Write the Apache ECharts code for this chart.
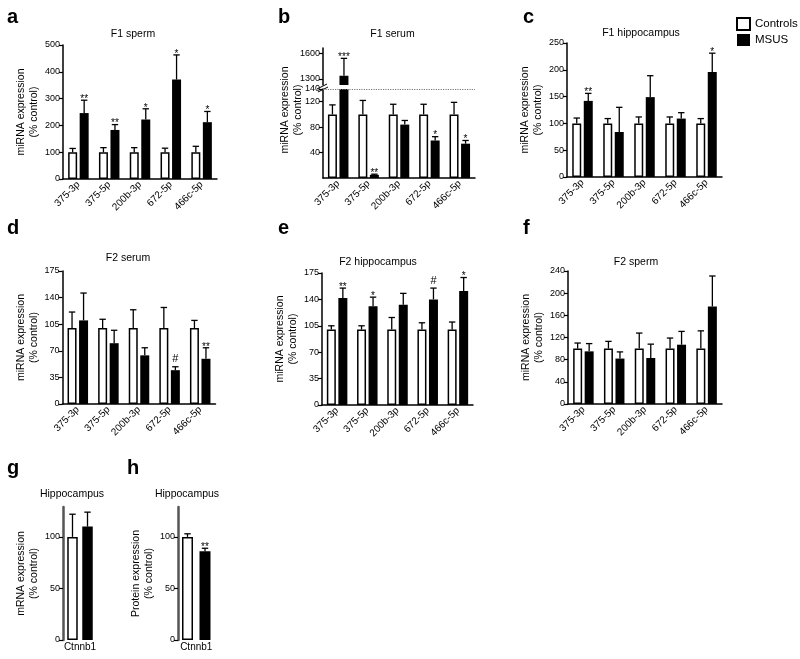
<!DOCTYPE html>
<html><head><meta charset="utf-8">
<script src="https://cdn.jsdelivr.net/npm/echarts@6/dist/echarts.min.js"></script>
<style>html,body{margin:0;padding:0;background:#fff}#c{width:800px;height:659px}</style>
</head><body><div id="c"></div>
<script>
// ---------- DATA ----------
const categories = ['375-3p','375-5p','200b-3p','672-5p','466c-5p'];
const geneCategory = ['Ctnnb1'];

// a: F1 sperm
const f1SpermCtrl = [100,100,100,100,100];
const f1SpermCtrlErr = [14,17,17,15,22];
const f1SpermMsus = [246,183,222,371,212];
const f1SpermMsusErr = [48,20,40,92,40];
const f1SpermSig = ['**','**','*','*','*'];
const f1SpermTicks = [0,100,200,300,400,500];

// b: F1 serum (broken axis)
const f1SerumCtrl = [100,100,100,100,100];
const f1SerumCtrlErr = [15,22,16,16,19];
const f1SerumMsus = [1338,5,84,59,54];
const f1SerumMsusErr = [203,1,6.5,6,5];
const f1SerumSig = ['***','**','','*','*'];
const f1SerumTicksLow = [40,80,120,140];
const f1SerumTicksHigh = [1300,1600];

// c: F1 hippocampus
const f1HippoCtrl = [100,100,100,100,100];
const f1HippoCtrlErr = [10,9,12,12,9];
const f1HippoMsus = [142,84,149,109,196];
const f1HippoMsusErr = [14,46,40,11,35];
const f1HippoSig = ['**','','','','*'];
const f1HippoTicks = [0,50,100,150,200,250];

// d: F2 serum
const f2SerumCtrl = [100,100,100,100,100];
const f2SerumCtrlErr = [21,11.5,24,27,10];
const f2SerumMsus = [110,80,64,44.5,59.5];
const f2SerumMsusErr = [36,17,10,4.5,14.5];
const f2SerumSig = ['','','','#','**'];
const f2SerumTicks = [0,35,70,105,140,175];

// e: F2 hippocampus
const f2HippoCtrl = [100,100,100,100,100];
const f2HippoCtrlErr = [5,5,16,9,10];
const f2HippoMsus = [142,131,133,140,151];
const f2HippoMsusErr = [13,12,15,15,18];
const f2HippoSig = ['**','*','','#','*'];
const f2HippoTicks = [0,35,70,105,140,175];

// f: F2 sperm
const f2SpermCtrl = [100,100,100,100,100];
const f2SpermCtrlErr = [10,13,28,19,32];
const f2SpermMsus = [95,82,83,107,176];
const f2SpermMsusErr = [14,12,25,24,55];
const f2SpermSig = ['','','','',''];
const f2SpermTicks = [0,40,80,120,160,200,240];

// g: Ctnnb1 mRNA
const mrnaCtrl = [100];
const mrnaCtrlErr = [22];
const mrnaMsus = [110];
const mrnaMsusErr = [14];
const mrnaSig = [''];
// h: Ctnnb1 protein
const protCtrl = [100];
const protCtrlErr = [3];
const protMsus = [86];
const protMsusErr = [3];
const protSig = ['**'];
const geneTicks = [0,50,100];

// ---------- BUILD ----------
const FONT = "'Liberation Sans', Arial, Helvetica, sans-serif";
const grids = [], xAxes = [], yAxes = [], series = [], graphics = [];

function addPanel(o) {
  const gi = grids.length;
  grids.push({left:o.left, top:o.top, width:o.width, height:o.height});
  xAxes.push({
    type:'category', gridIndex:gi, data:o.cats,
    axisLine:{show:o.xLine !== false, onZero:false, lineStyle:{color:'#000', width:1.5}},
    axisTick:{show:false},
    axisLabel:{show:o.xLabels !== false, interval:0, rotate:o.rot || 0, margin:o.labelMargin || 4,
      fontSize:10, color:'#000', fontFamily:FONT},
    splitLine:{show:false}
  });
  yAxes.push({
    type:'value', gridIndex:gi, min:o.min, max:o.max,
    axisLine:{show:true, lineStyle:{color:o.axisColor || '#000', width:o.axisWidth || 1.5}},
    axisTick:{show:true, length:4, customValues:o.ticks, lineStyle:{color:'#000', width:1.2}},
    axisLabel:{customValues:o.ticks, fontSize:9, color:'#000', margin:3, fontFamily:FONT,
      formatter:v => String(v)},
    splitLine:{show:false},
    name:o.name || '', nameLocation:'middle', nameGap:o.nameGap || 19, nameRotate:90,
    nameTextStyle:{fontSize:10.5, lineHeight:13, color:'#000', fontFamily:FONT}
  });
  const bw = o.bw, gap = o.gap;
  series.push({type:'bar', name:'Controls', xAxisIndex:gi, yAxisIndex:gi, data:o.ctrl,
    barWidth:bw, barGap:gap + '%', clip:true, silent:true,
    itemStyle:{color:'#fff', borderColor:'#000', borderWidth:1.5},
    markLine:o.markLine});
  series.push({type:'bar', name:'MSUS', xAxisIndex:gi, yAxisIndex:gi, data:o.msus,
    barWidth:bw, barGap:gap + '%', clip:true, silent:true,
    itemStyle:{color:'#000'}});
  const off = bw * (1 + gap / 100) / 2;
  const errData = [];
  o.ctrl.forEach((v, i) => {
    errData.push([i, v, v + o.ctrlErr[i], -1]);
    errData.push([i, o.msus[i], o.msus[i] + o.msusErr[i], 1]);
  });
  const sig = o.sig;
  series.push({type:'custom', xAxisIndex:gi, yAxisIndex:gi, clip:!!o.clip, silent:true, z:5,
    encode:{x:0, y:[1,2]}, data:errData,
    renderItem(params, api) {
      const i = api.value(0), mean = api.value(1), top = api.value(2), side = api.value(3);
      const b = api.coord([i, mean]);
      const t = api.coord([i, top]);
      const x = b[0] + side * off;
      const cap = 3.2;
      const st = {stroke:'#000', lineWidth:1.3};
      const ch = [
        {type:'line', shape:{x1:x, y1:b[1], x2:x, y2:t[1]}, style:st},
        {type:'line', shape:{x1:x - cap, y1:t[1], x2:x + cap, y2:t[1]}, style:st}
      ];
      const s = side > 0 ? sig[i] : '';
      if (s) {
        const isHash = s === '#';
        ch.push({type:'text', x:x, y:t[1] + (isHash ? -2 : 4),
          style:{text:s, textAlign:'center', textVerticalAlign:'bottom',
            fontSize:isHash ? 11 : 10, fontFamily:FONT, fill:'#000'}});
      }
      return {type:'group', children:ch};
    }
  });
  return gi;
}

const mainBw = 9, mainGap = 28;
const yName = 'miRNA expression\n(% control)';

// a
addPanel({left:63, top:45, width:154, height:134, min:0, max:500, ticks:f1SpermTicks,
  cats:categories, rot:45, ctrl:f1SpermCtrl, ctrlErr:f1SpermCtrlErr, msus:f1SpermMsus,
  msusErr:f1SpermMsusErr, sig:f1SpermSig, bw:mainBw, gap:mainGap, name:yName});
// b upper
addPanel({left:323, top:48, width:152, height:37, min:1230, max:1662, ticks:f1SerumTicksHigh,
  cats:categories, xLine:false, xLabels:false, ctrl:f1SerumCtrl, ctrlErr:f1SerumCtrlErr,
  msus:f1SerumMsus, msusErr:f1SerumMsusErr, sig:f1SerumSig, bw:mainBw, gap:mainGap, clip:true});
// b lower
addPanel({left:323, top:89, width:152, height:89, min:0, max:140, ticks:f1SerumTicksLow,
  cats:categories, rot:45, ctrl:f1SerumCtrl, ctrlErr:f1SerumCtrlErr,
  msus:f1SerumMsus, msusErr:f1SerumMsusErr, sig:f1SerumSig, bw:mainBw, gap:mainGap, clip:true,
  markLine:{symbol:'none', silent:true, label:{show:false},
    lineStyle:{type:'dotted', color:'#777', width:1.2}, data:[{yAxis:140}]}});
// c
addPanel({left:567, top:43, width:155, height:134, min:0, max:250, ticks:f1HippoTicks,
  cats:categories, rot:45, ctrl:f1HippoCtrl, ctrlErr:f1HippoCtrlErr, msus:f1HippoMsus,
  msusErr:f1HippoMsusErr, sig:f1HippoSig, bw:mainBw, gap:mainGap, name:yName});
// d
addPanel({left:62.5, top:271, width:153, height:133, min:0, max:175, ticks:f2SerumTicks,
  cats:categories, rot:45, ctrl:f2SerumCtrl, ctrlErr:f2SerumCtrlErr, msus:f2SerumMsus,
  msusErr:f2SerumMsusErr, sig:f2SerumSig, bw:mainBw, gap:mainGap, name:yName});
// e
addPanel({left:322, top:273, width:151, height:132, min:0, max:175, ticks:f2HippoTicks,
  cats:categories, rot:45, ctrl:f2HippoCtrl, ctrlErr:f2HippoCtrlErr, msus:f2HippoMsus,
  msusErr:f2HippoMsusErr, sig:f2HippoSig, bw:mainBw, gap:mainGap, name:yName});
// f
addPanel({left:568, top:271, width:154, height:133, min:0, max:240, ticks:f2SpermTicks,
  cats:categories, rot:45, ctrl:f2SpermCtrl, ctrlErr:f2SpermCtrlErr, msus:f2SpermMsus,
  msusErr:f2SpermMsusErr, sig:f2SpermSig, bw:mainBw, gap:mainGap, name:yName});
// g
addPanel({left:63, top:507, width:34, height:133, min:0, max:129, ticks:geneTicks,
  cats:geneCategory, xLine:false, labelMargin:2, ctrl:mrnaCtrl, ctrlErr:mrnaCtrlErr,
  msus:mrnaMsus, msusErr:mrnaMsusErr, sig:mrnaSig, bw:10.5, gap:43,
  name:'mRNA expression\n(% control)', axisColor:'#555', axisWidth:2.5, nameGap:20});
// h
addPanel({left:178, top:507, width:36.5, height:133, min:0, max:129, ticks:geneTicks,
  cats:geneCategory, xLine:false, labelMargin:2, ctrl:protCtrl, ctrlErr:protCtrlErr,
  msus:protMsus, msusErr:protMsusErr, sig:protSig, bw:11, gap:59,
  name:'Protein expression\n(% control)', axisColor:'#555', axisWidth:2.5, nameGap:18});

// ---------- TEXT DECORATION ----------
function txt(x, y, s, size, weight, align) {
  graphics.push({type:'text', x:x, y:y, silent:true,
    style:{text:s, fontSize:size, fontWeight:weight || 'normal', fontFamily:FONT,
      fill:'#000', textAlign:align || 'center', textVerticalAlign:'middle'}});
}
[['a',7,17],['b',278,17],['c',523,17],['d',7,228],['e',278,228],['f',523,228],['g',7,468],['h',127,468]]
  .forEach(l => txt(l[1], l[2], l[0], 20, 'bold', 'left'));
txt(133, 34, 'F1 sperm', 10.5);
txt(392.5, 34, 'F1 serum', 10.5);
txt(641, 33, 'F1 hippocampus', 10.5);
txt(128, 258, 'F2 serum', 10.5);
txt(378, 262, 'F2 hippocampus', 10.5);
txt(636, 262, 'F2 sperm', 10.5);
txt(72, 494, 'Hippocampus', 10.5);
txt(187, 494, 'Hippocampus', 10.5);
// y-axis title for broken axis panel b
graphics.push({type:'text', x:291.5, y:110, rotation:Math.PI/2, silent:true,
  style:{text:yName, fontSize:10.5, lineHeight:13, fontFamily:FONT, fill:'#000',
    textAlign:'center', textVerticalAlign:'middle'}});
// axis break marks
graphics.push({type:'line', silent:true, shape:{x1:317, y1:89, x2:327, y2:84}, style:{stroke:'#000', lineWidth:1}});
graphics.push({type:'line', silent:true, shape:{x1:318, y1:92, x2:328, y2:87}, style:{stroke:'#000', lineWidth:1}});

const chart = echarts.init(document.getElementById('c'), null, {renderer:'canvas'});
chart.setOption({
  animation:false,
  backgroundColor:'#fff',
  textStyle:{fontFamily:FONT},
  legend:{data:['Controls','MSUS'], orient:'vertical', left:731, top:12, icon:'rect',
    itemWidth:13, itemHeight:12, itemGap:3, selectedMode:false,
    textStyle:{fontSize:11.5, color:'#000', fontFamily:FONT}},
  grid:grids, xAxis:xAxes, yAxis:yAxes, series:series, graphic:graphics
});
</script></body></html>
